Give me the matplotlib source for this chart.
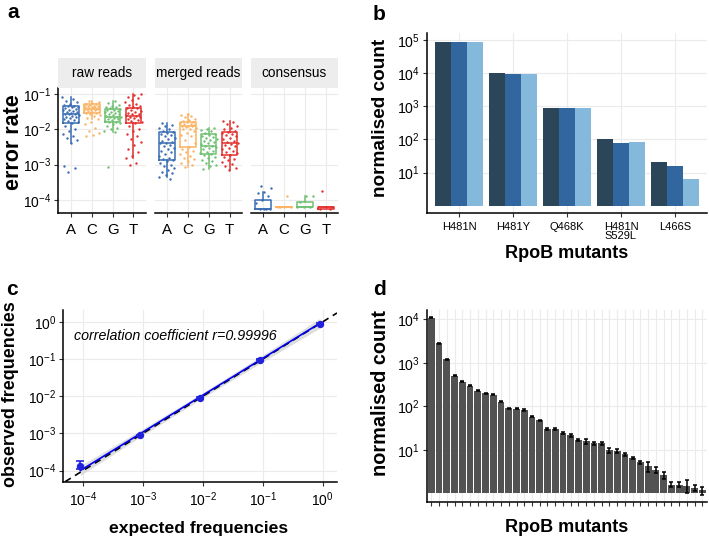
import numpy as np
import matplotlib
matplotlib.use('Agg')
import matplotlib.pyplot as plt
from matplotlib.ticker import NullLocator

plt.rcParams['font.family'] = ['Liberation Sans', 'DejaVu Sans']
plt.rcParams['mathtext.fontset'] = 'custom'
plt.rcParams['mathtext.rm'] = 'Liberation Sans'
plt.rcParams['mathtext.it'] = 'Liberation Sans:italic'
plt.rcParams['mathtext.bf'] = 'Liberation Sans:bold'
plt.rcParams['mathtext.default'] = 'regular'

# ---------------- data: panel a (log10 error rates) ----------------
bases = ['A', 'C', 'G', 'T']
facets = ['raw reads', 'merged reads', 'consensus']

pts_raw_A = [-1.08, -1.15, -1.2, -1.24, -1.28, -1.3, -1.33, -1.35, -1.36, -1.38, -1.4, -1.42, -1.44, -1.46,
             -1.48, -1.5, -1.52, -1.54, -1.56, -1.57, -1.58, -1.6, -1.62, -1.64, -1.66, -1.68, -1.7, -1.73,
             -1.76, -1.8, -1.83, -1.9, -2.0, -2.05, -2.12, -2.18, -2.25, -2.3, -2.4, -3.05, -3.1, -3.2]
pts_raw_C = [-1.2, -1.22, -1.25, -1.27, -1.29, -1.3, -1.31, -1.33, -1.34, -1.35, -1.36, -1.37, -1.38, -1.39,
             -1.4, -1.41, -1.42, -1.43, -1.44, -1.45, -1.46, -1.48, -1.5, -1.52, -1.53, -1.55, -1.57, -1.6,
             -1.63, -1.67, -1.7, -1.78, -1.85, -1.95, -2.05, -2.1, -2.15, -2.2]
pts_raw_G = [-1.2, -1.25, -1.3, -1.33, -1.36, -1.38, -1.4, -1.42, -1.44, -1.46, -1.48, -1.5, -1.52, -1.54,
             -1.56, -1.58, -1.6, -1.62, -1.64, -1.65, -1.66, -1.68, -1.7, -1.72, -1.74, -1.76, -1.78, -1.8,
             -1.83, -1.86, -1.9, -1.95, -2.0, -2.05, -2.07, -3.07]
pts_raw_T = [-1.0, -1.03, -1.08, -1.12, -1.18, -1.22, -1.27, -1.3, -1.33, -1.36, -1.39, -1.41, -1.44, -1.47,
             -1.5, -1.53, -1.56, -1.58, -1.6, -1.62, -1.64, -1.66, -1.68, -1.7, -1.73, -1.76, -1.8, -1.83,
             -1.9, -1.98, -2.05, -2.12, -2.2, -2.28, -2.35, -2.45, -2.55, -2.65, -2.75, -2.82, -2.95, -3.0]
pts_mrg_A = [-1.83, -1.88, -1.92, -1.96, -2.0, -2.04, -2.08, -2.1, -2.13, -2.16, -2.2, -2.24, -2.28, -2.32,
             -2.36, -2.38, -2.4, -2.44, -2.48, -2.52, -2.56, -2.6, -2.65, -2.7, -2.75, -2.8, -2.85, -2.87,
             -2.9, -2.95, -3.0, -3.05, -3.1, -3.15, -3.2, -3.25, -3.3, -3.35, -3.4]
pts_mrg_C = [-1.58, -1.6, -1.63, -1.66, -1.7, -1.73, -1.76, -1.78, -1.8, -1.82, -1.84, -1.86, -1.88, -1.9,
             -1.91, -1.92, -1.94, -1.96, -1.98, -2.0, -2.05, -2.1, -2.15, -2.2, -2.3, -2.4, -2.5, -2.55,
             -2.6, -2.65, -2.7, -2.75, -2.8, -2.85, -2.9, -2.95, -3.0, -3.06]
pts_mrg_G = [-1.95, -1.98, -2.02, -2.06, -2.1, -2.13, -2.16, -2.19, -2.22, -2.25, -2.28, -2.31, -2.34, -2.37,
             -2.4, -2.43, -2.46, -2.47, -2.5, -2.53, -2.56, -2.6, -2.63, -2.66, -2.7, -2.74, -2.78, -2.82,
             -2.86, -2.9, -2.95, -3.0, -3.05, -3.12]
pts_mrg_T = [-1.76, -1.8, -1.85, -1.9, -1.95, -2.0, -2.04, -2.07, -2.1, -2.13, -2.16, -2.2, -2.24, -2.28,
             -2.32, -2.36, -2.4, -2.42, -2.45, -2.48, -2.52, -2.56, -2.6, -2.64, -2.68, -2.73, -2.78, -2.83,
             -2.88, -2.93, -2.98, -3.04, -3.1, -3.15]
pts_con_A = [-3.6, -3.66, -3.77, -3.8, -3.9, -4.0, -4.1, -4.25, -4.25, -4.25, -4.25]
pts_con_C = [-3.9, -4.21, -4.21, -4.21, -4.21]
pts_con_G = [-3.9, -3.9, -4.07, -4.21, -4.21, -4.21]
pts_con_T = [-3.74, -4.19, -4.21, -4.26, -4.26]

# box statistics (log10), rows = facets, columns = A C G T
box_q1 = [[-1.83, -1.55, -1.80, -1.83], [-2.87, -2.51, -2.70, -2.73], [-4.25, -4.21, -4.21, -4.26]]
box_med = [[-1.575, -1.42, -1.64, -1.62], [-2.38, -1.91, -2.47, -2.40], [-4.25, -4.21, -4.21, -4.21]]
box_q3 = [[-1.33, -1.29, -1.42, -1.39], [-2.09, -1.80, -2.13, -2.07], [-4.0, -4.21, -4.07, -4.19]]
box_lo = [[-2.4, -1.7, -2.07, -2.82], [-3.35, -3.06, -3.12, -3.15], [-4.25, -4.21, -4.21, -4.26]]
box_hi = [[-1.08, -1.2, -1.2, -1.01], [-1.83, -1.58, -1.95, -1.76], [-3.77, -4.21, -3.9, -4.19]]

# ---------------- data: panel b ----------------
b_cats = ['H481N', 'H481Y', 'Q468K', 'H481N\nS529L', 'L466S']
b_rep1 = [86000, 9800, 870, 102, 20.6]
b_rep2 = [86000, 9600, 900, 80, 15.2]
b_rep3 = [86000, 9700, 880, 85, 6.3]

# ---------------- data: panel c ----------------
c_expected = [9e-5, 9e-4, 9e-3, 9e-2, 0.9]
c_observed = [1.35e-4, 8.8e-4, 8.7e-3, 9.7e-2, 0.89]
c_obs_lo = [1.1e-4, 8.3e-4, 8.2e-3, 9.3e-2, 0.85]
c_obs_hi = [1.8e-4, 9.3e-4, 9.3e-3, 1.01e-1, 0.93]
c_fit = [1.0e-4, 9.8e-4, 9.6e-3, 9.4e-2, 0.92]
c_band_halfwidth_dec = [0.13, 0.09, 0.07, 0.09, 0.13]
c_text = 'correlation coefficient r=0.99996'

# ---------------- data: panel d ----------------
d_vals = [10900, 2800, 1200, 507, 363, 293, 229, 200, 183, 128, 90, 88, 82, 58, 48, 30, 30, 24,
          21.7, 16.7, 15.8, 14, 14, 9.8, 9.5, 7.95, 6.5, 5.2, 4.2, 3.5, 2.6, 1.6, 1.6, 1.5, 1.36, 1.18]
d_err = [300, 80, 35, 15, 10, 8, 7, 6, 5, 5, 2.5, 2.5, 3, 2.5, 1.5, 1.2, 1.5, 1.3,
         1.5, 1.0, 2.0, 1.3, 1.0, 1.3, 0.85, 0.7, 0.45, 0.46, 1.1, 0.55, 0.47, 0.2, 0.2, 0.5, 0.2, 0.24]

# ---------------- styles ----------------
base_colors = ['#3a6db3', '#fbb465', '#6fc070', '#e3302d']
b_colors = ['#2c4659', '#31679e', '#85b9dc']
d_color = '#525252'
GRID = '#ebebeb'

W, H = 709, 538
fig = plt.figure(figsize=(W / 100, H / 100), dpi=100)


def px_axes(x0, y0, x1, y1):
    return fig.add_axes([x0 / W, 1 - y1 / H, (x1 - x0) / W, (y1 - y0) / H])


def style(ax, left=True):
    for s in ['top', 'right']:
        ax.spines[s].set_visible(False)
    ax.spines['bottom'].set_linewidth(1.1)
    ax.spines['left'].set_linewidth(1.1)
    ax.spines['left'].set_visible(left)
    ax.set_axisbelow(True)
    ax.grid(True, color=GRID, lw=0.8)
    ax.tick_params(length=3, width=0.8, color='#333333', labelcolor='black', pad=2)


def dec_labels(exps):
    return ['$10^{%d}$' % e for e in exps]


# ---------------- panel a ----------------
pts = [[pts_raw_A, pts_raw_C, pts_raw_G, pts_raw_T],
       [pts_mrg_A, pts_mrg_C, pts_mrg_G, pts_mrg_T],
       [pts_con_A, pts_con_C, pts_con_G, pts_con_T]]
facet_x = [(58.3, 146.0), (154.5, 242.0), (250.7, 338.3)]
a_exps = [-4, -3, -2, -1]
for k, facet in enumerate(facets):
    x0, x1 = facet_x[k]
    ax = px_axes(x0, 88, x1, 213)
    style(ax, left=(k == 0))
    ax.set_yscale('log')
    ax.set_ylim(10 ** -4.37, 10 ** -0.83)
    ax.set_xlim(-0.6, 3.6)
    for i in range(4):
        c = base_colors[i]
        st = [dict(med=10 ** box_med[k][i], q1=10 ** box_q1[k][i], q3=10 ** box_q3[k][i],
                   whislo=10 ** box_lo[k][i], whishi=10 ** box_hi[k][i], fliers=[])]
        lp = dict(color=c, lw=1.1)
        ax.bxp(st, positions=[i], widths=0.75, showfliers=False, showcaps=False,
               boxprops=lp, medianprops=lp, whiskerprops=lp, manage_ticks=False)
        v = np.array(pts[k][i])
        n = len(v)
        off = ((np.arange(n) * 0.6180339887 + 0.31 * i + 0.17 * k) % 1.0 - 0.5) * 0.8
        ax.scatter(i + off, 10 ** v, s=3, color=c, lw=0, zorder=3)
    ax.set_xticks(range(4))
    ax.set_xticklabels(bases, fontsize=10.8)
    ax.tick_params(axis='x', pad=4)
    ax.set_yticks([10.0 ** e for e in a_exps])
    ax.yaxis.set_minor_locator(NullLocator())
    if k == 0:
        ax.set_yticklabels(dec_labels(a_exps), fontsize=10)
    else:
        ax.tick_params(axis='y', length=0, labelleft=False)
    sax = px_axes(x0, 58, x1, 88)
    sax.set_facecolor('#ededed')
    for s in sax.spines.values():
        s.set_visible(False)
    sax.set_xticks([])
    sax.set_yticks([])
    sax.text(0.5, 0.5, facet, ha='center', va='center', fontsize=9.8, transform=sax.transAxes)

# ---------------- panel b ----------------
axb = px_axes(426.7, 33.3, 707.3, 213.3)
style(axb)
axb.set_yscale('log')
xb = np.arange(len(b_cats))
bw = 0.3
for j, (vals, col) in enumerate(zip([b_rep1, b_rep2, b_rep3], b_colors)):
    axb.bar(xb + (j - 1) * bw, np.array(vals) - 1, bottom=1, width=bw, color=col, lw=0)
axb.set_xlim(-0.6, 4.6)
axb.set_ylim(10 ** -0.23, 10 ** 5.2)
b_exps = [1, 2, 3, 4, 5]
axb.set_yticks([10.0 ** e for e in b_exps])
axb.set_yticklabels(dec_labels(b_exps), fontsize=10.2)
axb.yaxis.set_minor_locator(NullLocator())
axb.set_xticks(xb)
axb.set_xticklabels(b_cats, fontsize=8, linespacing=0.95)
axb.tick_params(axis='x', pad=3)

# ---------------- panel c ----------------
axc = px_axes(63.3, 310, 337, 481.7)
style(axc)
axc.set_xscale('log')
axc.set_yscale('log')
axc.set_xlim(10 ** -4.33, 10 ** 0.24)
axc.set_ylim(10 ** -4.3, 10 ** 0.32)
ce = np.array(c_expected)
cf = np.array(c_fit)
hw = 10 ** np.array(c_band_halfwidth_dec)
axc.fill_between(ce, cf / hw, cf * hw, color='#d4d4d4', alpha=0.75, lw=0, zorder=1)
axc.axline((1e-4, 1e-4), (1, 1), color='black', ls=(0, (4, 3)), lw=1.2, zorder=2)
axc.plot(ce, cf, color='#0000ee', lw=1.2, zorder=3)
co = np.array(c_observed)
axc.errorbar(ce, co, yerr=[co - np.array(c_obs_lo), np.array(c_obs_hi) - co], fmt='o',
             color='#2222dd', ms=4.3, capsize=2.8, elinewidth=1.2, capthick=1.2, zorder=4)
c_exps = [-4, -3, -2, -1, 0]
axc.set_xticks([10.0 ** e for e in c_exps])
axc.set_xticklabels(dec_labels(c_exps), fontsize=10)
axc.set_yticks([10.0 ** e for e in c_exps])
axc.set_yticklabels(dec_labels(c_exps), fontsize=10)
axc.xaxis.set_minor_locator(NullLocator())
axc.yaxis.set_minor_locator(NullLocator())
axc.tick_params(axis='x', pad=3)
axc.text(0.039, 0.825, c_text, transform=axc.transAxes, style='italic', fontsize=10.3, va='baseline')

# ---------------- panel d ----------------
axd = px_axes(426.7, 310, 707.0, 501.7)
style(axd)
axd.set_yscale('log')
xd = np.arange(len(d_vals))
axd.bar(xd, np.array(d_vals) - 1, bottom=1, width=0.88, color=d_color, lw=0)
axd.errorbar(xd, d_vals, yerr=d_err, fmt='none', ecolor='black', elinewidth=1.1, capsize=1.6, capthick=1.1)
axd.set_xlim(-0.6, len(d_vals) - 0.4)
axd.set_ylim(10 ** -0.19, 10 ** 4.21)
d_exps = [1, 2, 3, 4]
axd.set_yticks([10.0 ** e for e in d_exps])
axd.set_yticklabels(dec_labels(d_exps), fontsize=10.2)
axd.yaxis.set_minor_locator(NullLocator())
axd.set_xticks(xd)
axd.set_xticklabels([])

# ---------------- labels ----------------
def ftext(x, y, s, **kw):
    fig.text(x / W, 1 - y / H, s, **kw)

ftext(13.7, 141.7, 'error rate', rotation=90, ha='center', va='center', fontsize=15.5, fontweight='bold')
ftext(380.8, 117.5, 'normalised count', rotation=90, ha='center', va='center', fontsize=13.7, fontweight='bold')
ftext(566.7, 258.3, 'RpoB mutants', ha='center', va='baseline', fontsize=13, fontweight='bold')
ftext(199, 533.3, 'expected frequencies', ha='center', va='baseline', fontsize=12.6, fontweight='bold')
ftext(10.8, 394, 'observed frequencies', rotation=90, ha='center', va='center', fontsize=12.9, fontweight='bold')
ftext(380.8, 393.3, 'normalised count', rotation=90, ha='center', va='center', fontsize=14.3, fontweight='bold')
ftext(566.7, 531.7, 'RpoB mutants', ha='center', va='baseline', fontsize=13, fontweight='bold')

for (x, y, s) in [(7, 18, 'a'), (373, 20, 'b'), (6, 295, 'c'), (373, 295, 'd')]:
    ftext(x, y, s, ha='left', va='baseline', fontsize=15, fontweight='bold')

fig.savefig('out.png', dpi=100)
